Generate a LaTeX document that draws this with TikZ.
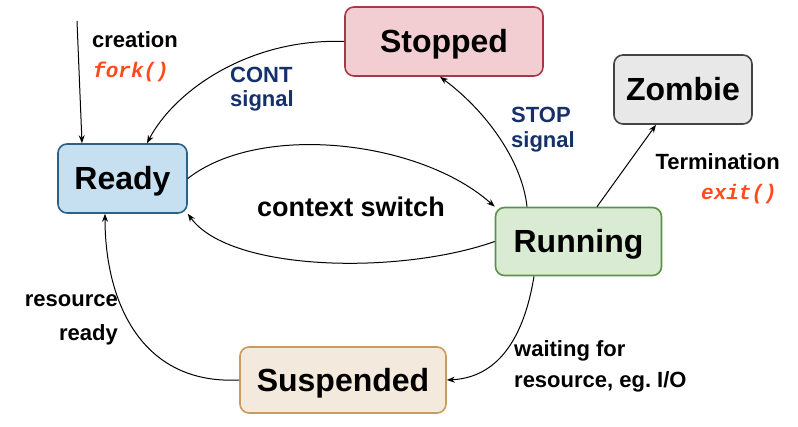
\documentclass[tikz,border=0pt]{standalone}
\usepackage{fontspec}
\setmainfont{Liberation Sans}
\setmonofont{Liberation Mono}
\usetikzlibrary{arrows.meta}
\definecolor{readyfill}{HTML}{C6E0F1}
\definecolor{readydraw}{HTML}{2A6186}
\definecolor{stopfill}{HTML}{F2CED3}
\definecolor{stopdraw}{HTML}{A83848}
\definecolor{zombfill}{HTML}{E8E8E8}
\definecolor{zombdraw}{HTML}{444444}
\definecolor{runfill}{HTML}{DAEBD4}
\definecolor{rundraw}{HTML}{5B9248}
\definecolor{suspfill}{HTML}{F3E9DD}
\definecolor{suspdraw}{HTML}{C99B5E}
\definecolor{sysred}{HTML}{FF4A1C}
\definecolor{signavy}{HTML}{15306B}
\frenchspacing
\begin{document}
\begin{tikzpicture}[x=1pt,y=-1pt,
  state/.style={draw, rounded corners=9pt, line width=1.6pt,
    font=\fontsize{32}{32}\selectfont\bfseries, inner sep=0pt,
    text height=23pt, text depth=0pt},
  lbl/.style={font=\fontsize{22}{22}\selectfont\bfseries, inner sep=0pt},
  sig/.style={lbl, text=signavy},
  sys/.style={font=\fontsize{21}{21}\selectfont\ttfamily\bfseries\itshape, text=sysred, inner sep=0pt},
  conn/.style={line width=1pt, -{Stealth[length=8pt,width=6pt]}}]
\useasboundingbox (0,0) rectangle (798,427);

\node[state, fill=readyfill, draw=readydraw, minimum width=129pt, minimum height=69pt] (ready) at (122.5,178.5) {Ready};
\node[state, fill=stopfill, draw=stopdraw, minimum width=198pt, minimum height=69pt] (stopped) at (444,41.5) {Stopped};
\node[state, fill=zombfill, draw=zombdraw, minimum width=138pt, minimum height=69pt] (zombie) at (683,89.5) {Zombie};
\node[state, fill=runfill, draw=rundraw, minimum width=166pt, minimum height=68pt] (running) at (578.5,241.5) {Running};
\node[state, fill=suspfill, draw=suspdraw, minimum width=206pt, minimum height=66pt] (susp) at (343,380) {Suspended};

\coordinate (start) at (77,21);
\draw[conn] (start) -- (ready.north -| 82,0);

% labels
\node[lbl, anchor=base west] (lcre) at (92,48) {creation};
\node[sys, anchor=base west] (lfork) at (93,78) {fork()};
\node[sig, anchor=base west] (lcont) at (230,83) {CONT};
\node[sig, anchor=base west] (lcont2) at (230,107) {signal};
\node[sig, anchor=base west] (lstop) at (511,123) {STOP};
\node[sig, anchor=base west] (lstop2) at (511,148) {signal};
\node[lbl, anchor=base east] (lterm) at (780,170) {Termination};
\node[sys, anchor=base east] (lexit) at (777,200) {exit()};
\node[lbl, font=\fontsize{27}{27}\selectfont\bfseries, anchor=base] (lctx) at (351,217) {context switch};
\node[lbl, anchor=base east] (lres) at (118,307) {resource};
\node[lbl, anchor=base east] (lres2) at (118,341) {ready};
\node[lbl, anchor=base west] (lwait) at (514,357) {waiting for};
\node[lbl, anchor=base west] (lwait2) at (514,388) {resource, eg. I/O};

% connectors
\draw[conn] (stopped.west) .. controls (250,38) and (175,90) .. (ready.north -| 147,0);
\draw[conn] (ready.east) .. controls (260,122) and (420,140) .. (running.north west);
\draw[conn] (running.west) .. controls (400,275) and (230,272) .. (ready.south east);
\draw[conn] (running.north -| 527,0) .. controls (522,160) and (485,110) .. (stopped.south -| 440,0);
\draw[conn] (running.north -| 597,0) -- (zombie.south -| 656,0);
\draw[conn] (running.south -| 534,0) .. controls (522,350) and (490,378) .. (susp.east);
\draw[conn] (susp.west) .. controls (140,385) and (105,300) .. (ready.south -| 105,0);
\end{tikzpicture}
\end{document}
